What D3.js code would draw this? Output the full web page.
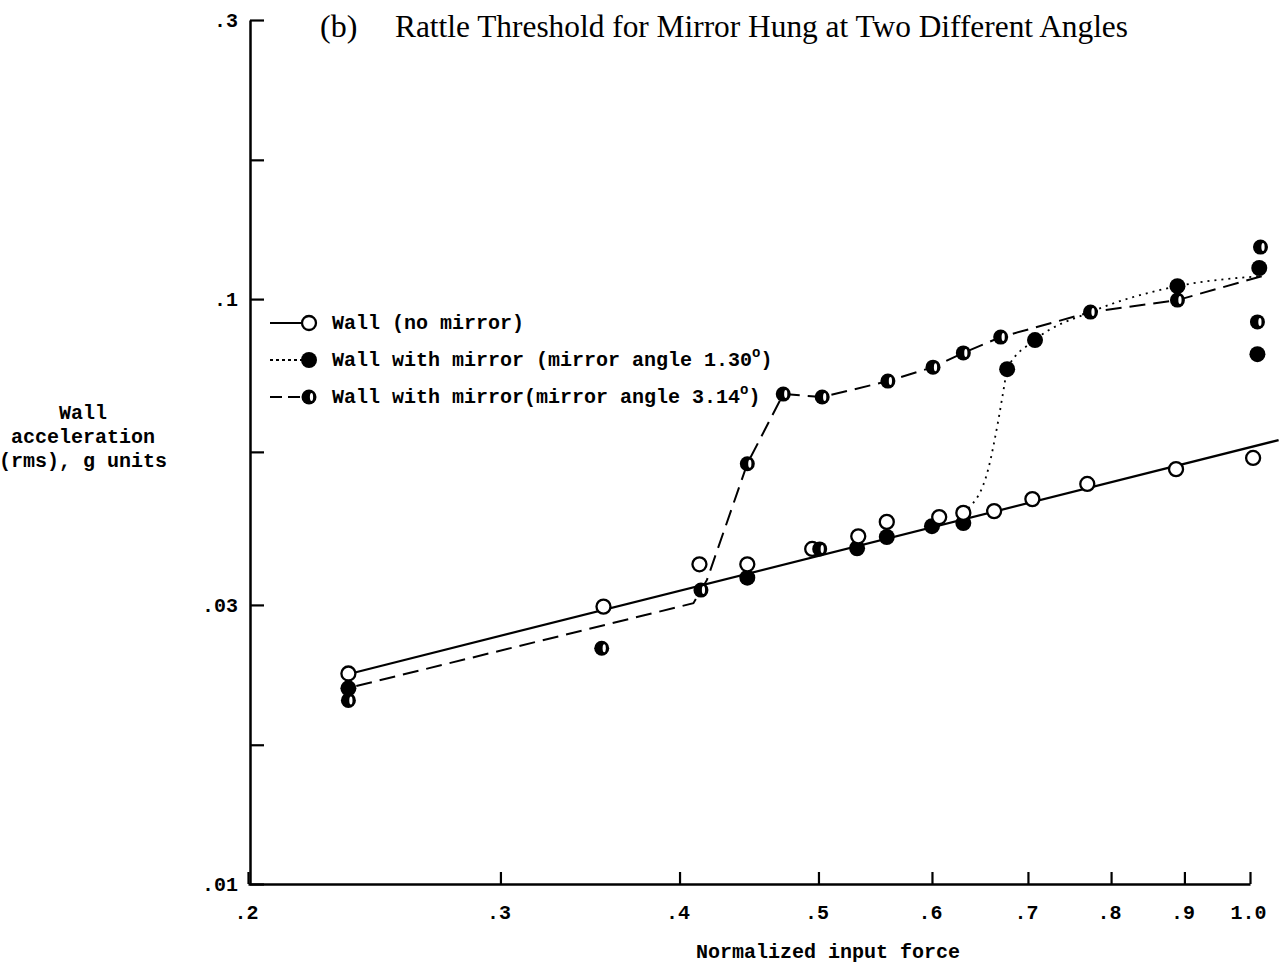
<!DOCTYPE html>
<html>
<head>
<meta charset="utf-8">
<script src="https://cdn.jsdelivr.net/npm/d3@7"></script>
<style>
  body { margin: 0; background: #fff; }
  .mono { font-family: "Liberation Mono", "DejaVu Sans Mono", monospace; font-weight: bold; }
  .title { font-family: "Liberation Serif", "DejaVu Serif", serif; }
</style>
</head>
<body>
<div id="viz"></div>
<script>
// x ticks (normalized input force) and y ticks (wall acceleration, g rms)
const xTicks = [0.2, 0.3, 0.4, 0.5, 0.6, 0.7, 0.8, 0.9, 1.0];
const xTickLabels = ['.2', '.3', '.4', '.5', '.6', '.7', '.8', '.9', '1.0'];
const yTicks = [0.01, 0.0173, 0.03, 0.0548, 0.1, 0.173, 0.3];
const yTickLabels = ['.01', '', '.03', '', '.1', '', '.3'];

// Wall (no mirror) - open circles
const wallX = [0.235, 0.354, 0.413, 0.446, 0.495, 0.533, 0.558, 0.607, 0.631, 0.663, 0.705, 0.770, 0.888, 1.005];
const wallY = [0.0229, 0.0298, 0.0352, 0.0352, 0.0374, 0.0393, 0.0416, 0.0424, 0.0431, 0.0434, 0.0455, 0.0483, 0.0512, 0.0535];

// Wall with mirror, angle 1.30 deg - filled circles
const m130X = [0.235, 0.446, 0.532, 0.558, 0.600, 0.631, 0.677, 0.708, 0.890, 1.015, 1.012];
const m130Y = [0.0216, 0.0334, 0.0375, 0.0392, 0.0409, 0.0414, 0.0759, 0.0851, 0.1052, 0.1130, 0.0805];

// Wall with mirror, angle 3.14 deg - half filled circles
const m314X = [0.235, 0.353, 0.414, 0.446, 0.4725, 0.501, 0.503, 0.559, 0.601, 0.631, 0.670, 0.774, 0.890, 1.017, 1.012];
const m314Y = [0.0206, 0.0253, 0.0318, 0.0523, 0.0688, 0.0374, 0.0680, 0.0724, 0.0765, 0.0809, 0.0861, 0.0950, 0.0996, 0.1227, 0.0914];

// faired curves through the points
const wallFitX = [0.2352, 1.047];
const wallFitY = [0.02286, 0.0574];
const fit130X = [0.636, 0.657, 0.6675, 0.674, 0.677, 0.708, 0.774, 0.890, 1.020];
const fit130Y = [0.0439, 0.0514, 0.0621, 0.0713, 0.0759, 0.0851, 0.0950, 0.1052, 0.1095];
const fit314X = [0.238, 0.409, 0.418, 0.446, 0.4725, 0.503, 0.559, 0.601, 0.631, 0.670, 0.774, 0.890, 1.020];
const fit314Y = [0.0218, 0.0302, 0.0331, 0.0523, 0.0688, 0.0680, 0.0724, 0.0765, 0.0809, 0.0861, 0.0950, 0.0996, 0.1095];

const legendItems = [
  { label: 'Wall (no mirror)', deg: null, dash: null, marker: 'open' },
  { label: 'Wall with mirror (mirror angle 1.30', deg: 'o', dash: '3,3', marker: 'filled' },
  { label: 'Wall with mirror(mirror angle 3.14', deg: 'o', dash: '12,6', marker: 'half' }
];

const W = 1282, H = 964;
const svg = d3.select('#viz').append('svg')
  .attr('width', W).attr('height', H)
  .attr('viewBox', `0 0 ${W} ${H}`);

const x = d3.scaleLog().domain([0.2, 1.0]).range([248, 1250]);
const y = d3.scaleLog().domain([0.01, 0.3]).range([884, 20]);

// title
const title = svg.append('g').attr('class', 'title');
title.append('text').attr('x', 320).attr('y', 37)
  .style('font-size', '32px').text('(b)');
title.append('text').attr('x', 395).attr('y', 37)
  .style('font-size', '32px')
  .attr('textLength', 733).attr('lengthAdjust', 'spacingAndGlyphs')
  .text('Rattle Threshold for Mirror Hung at Two Different Angles');

// axes
const xAxis = svg.append('g')
  .attr('transform', `translate(0,${y(0.01)})`)
  .call(d3.axisBottom(x).tickValues(xTicks).tickFormat((d, i) => xTickLabels[i])
    .tickSize(-12).tickSizeOuter(0).tickPadding(21));
const yAxis = svg.append('g')
  .attr('transform', `translate(250,0)`)
  .call(d3.axisLeft(y).tickValues(yTicks).tickFormat((d, i) => yTickLabels[i])
    .tickSize(-14).tickSizeOuter(0).tickPadding(12));

[xAxis, yAxis].forEach(g => {
  g.select('.domain').attr('stroke', '#000').attr('stroke-width', 2.5);
  g.selectAll('.tick line').attr('stroke', '#000').attr('stroke-width', 2.2);
  g.selectAll('.tick text')
    .attr('class', 'mono')
    .style('font-size', '20px')
    .attr('fill', '#000');
});
xAxis.selectAll('.tick text').attr('dx', '-2');

svg.append('text').attr('class', 'mono')
  .attr('x', 828).attr('y', 958)
  .attr('text-anchor', 'middle')
  .style('font-size', '20px')
  .text('Normalized input force');

const yLab = svg.append('text').attr('class', 'mono')
  .attr('text-anchor', 'middle')
  .style('font-size', '20px');
['Wall', 'acceleration', '(rms), g units'].forEach((t, i) => {
  yLab.append('tspan').attr('x', 83).attr('y', 419 + i * 24).text(t);
});

// curves
const toPts = (xs, ys) => xs.map((v, i) => [x(v), y(ys[i])]);
const line = d3.line();
const curvy = d3.line().curve(d3.curveMonotoneX);

svg.append('path').attr('d', line(toPts(wallFitX, wallFitY)))
  .attr('fill', 'none').attr('stroke', '#000').attr('stroke-width', 2.2);
svg.append('path').attr('d', curvy(toPts(fit130X, fit130Y)))
  .attr('fill', 'none').attr('stroke', '#000').attr('stroke-width', 1.8)
  .attr('stroke-dasharray', '2,5');
svg.append('path').attr('d', line(toPts(fit314X, fit314Y)))
  .attr('fill', 'none').attr('stroke', '#000').attr('stroke-width', 2)
  .attr('stroke-dasharray', '16,8');

// markers
function marker(g, kind, cx, cy) {
  if (kind === 'open') {
    g.append('circle').attr('cx', cx).attr('cy', cy).attr('r', 7)
      .attr('fill', '#fff').attr('stroke', '#000').attr('stroke-width', 2.3);
  } else if (kind === 'filled') {
    g.append('circle').attr('cx', cx).attr('cy', cy).attr('r', 8).attr('fill', '#000');
  } else {
    g.append('circle').attr('cx', cx).attr('cy', cy).attr('r', 7.5).attr('fill', '#000');
    g.append('ellipse').attr('cx', cx + 2.5).attr('cy', cy).attr('rx', 1.6).attr('ry', 4)
      .attr('fill', '#fff');
  }
}

const pts = svg.append('g');
m130X.forEach((v, i) => marker(pts, 'filled', x(v), y(m130Y[i])));
wallX.forEach((v, i) => marker(pts, 'open', x(v), y(wallY[i])));
m314X.forEach((v, i) => marker(pts, 'half', x(v), y(m314Y[i])));

// legend
const legend = svg.append('g').attr('transform', 'translate(270,323)');
legendItems.forEach((d, i) => {
  const row = legend.append('g').attr('transform', `translate(0,${i * 37})`);
  const ln = row.append('line').attr('x1', 0).attr('x2', 34).attr('y1', 0).attr('y2', 0)
    .attr('stroke', '#000').attr('stroke-width', 2);
  if (d.dash) ln.attr('stroke-dasharray', d.dash);
  marker(row, d.marker, 39, 0);
  const t = row.append('text').attr('class', 'mono')
    .attr('x', 62).attr('y', 6)
    .style('font-size', '20px')
    .text(d.label);
  if (d.deg) {
    t.append('tspan').attr('dy', -9).style('font-size', '14px').text(d.deg);
    t.append('tspan').attr('dy', 9).text(')');
  }
});
</script>
</body>
</html>
